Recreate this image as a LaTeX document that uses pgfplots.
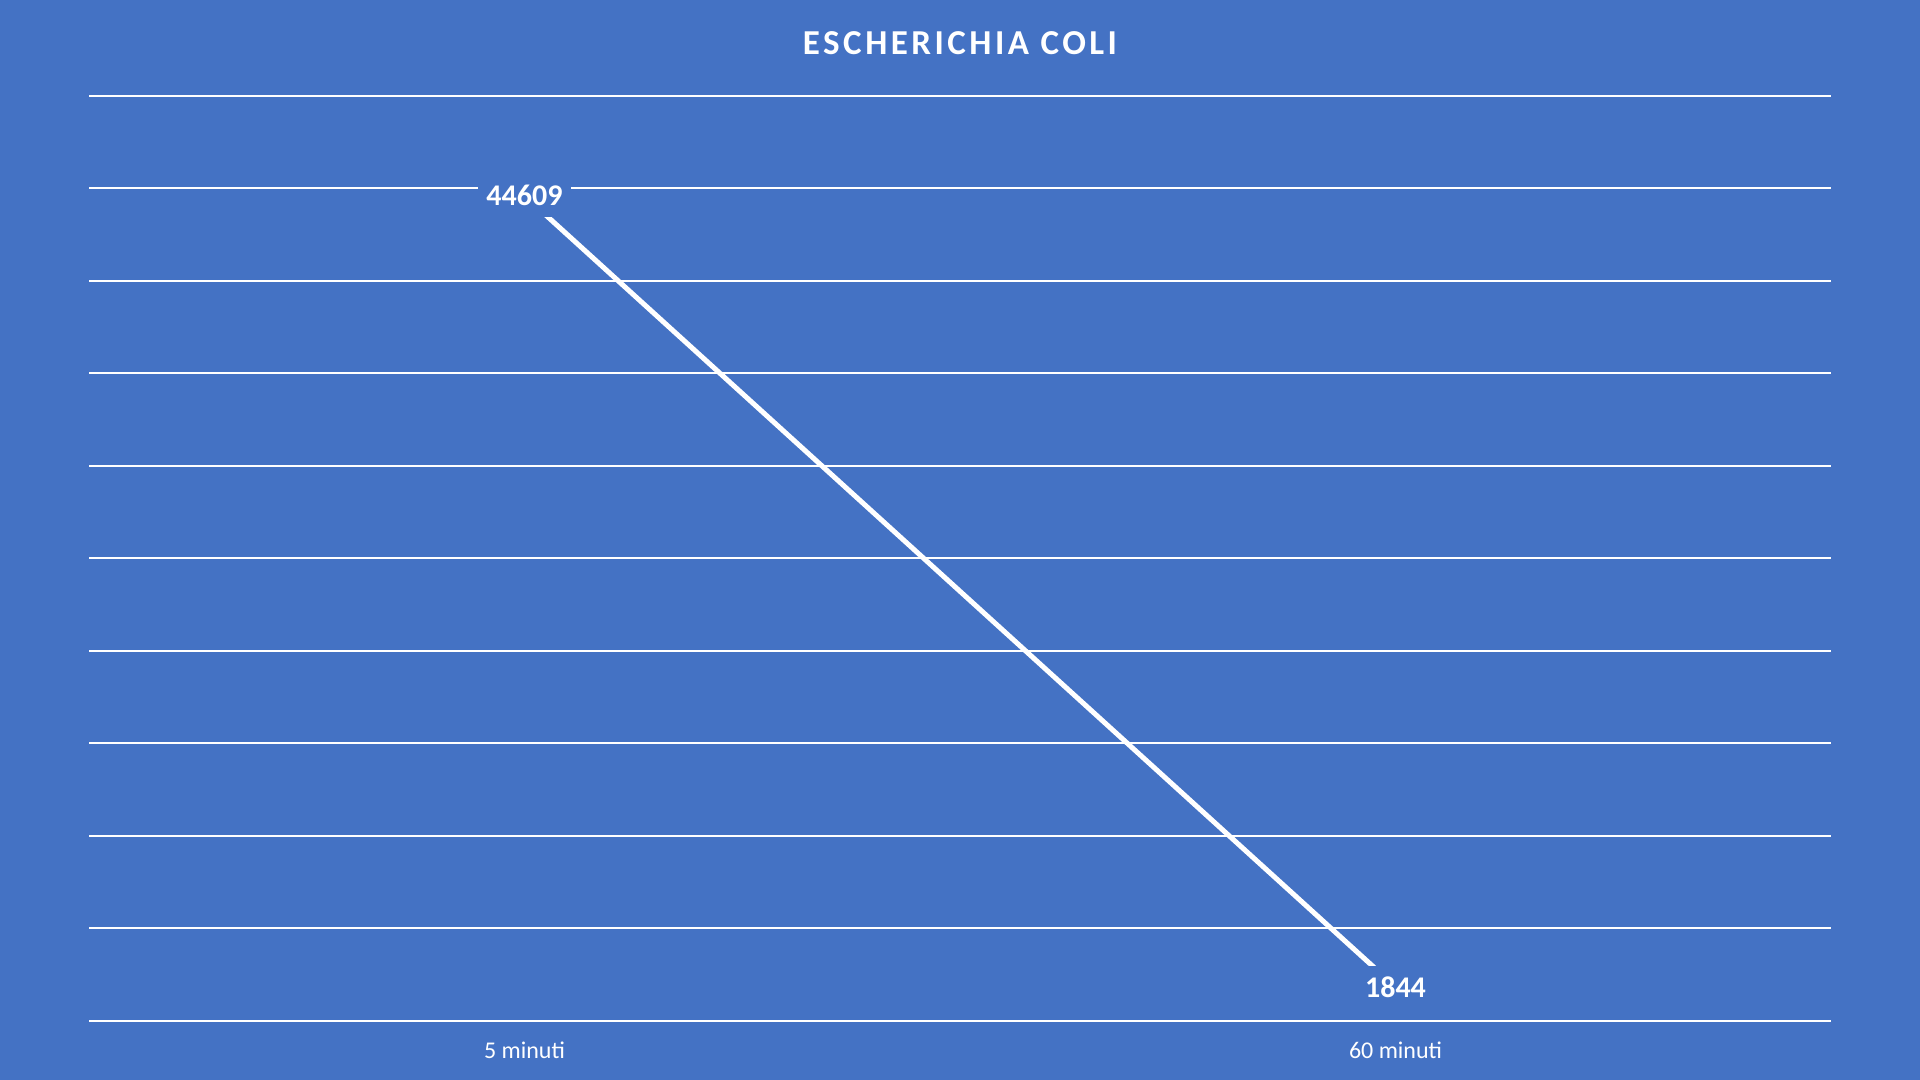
\documentclass[border=0pt]{standalone}
\usepackage{pgfplots}
\pgfplotsset{compat=1.18}
\usepackage{fontspec}
\setmainfont{Carlito}
\newfontfamily\titlefont[LetterSpace=10]{Carlito}
\definecolor{bg}{HTML}{4472C4}
\begin{document}
\begin{tikzpicture}
\fill[bg] (0,0) rectangle (960pt,540pt);
\begin{axis}[
  at={(44.5pt,29.5pt)}, anchor=south west,
  scale only axis, width=871pt, height=462.5pt,
  xmin=-0.5, xmax=1.5, ymin=0, ymax=50000,
  ytick distance=5000, yticklabels={}, scaled y ticks=false,
  xtick={0,1}, xticklabels={5 minuti, 60 minuti},
  xticklabel style={anchor=center, yshift=-14.5pt, font=\fontsize{12}{14}\selectfont, text=white},
  major tick length=0pt,
  axis line style={draw=none},
  ymajorgrids, grid style={white, line width=1pt},
  clip=false,
  point meta=explicit symbolic,
  nodes near coords,
  every node near coord/.append style={anchor=center, fill=bg, text=white,
     font=\bfseries\fontsize{15}{17}\selectfont, inner xsep=4pt, minimum height=21pt},
]
\addplot[white, line width=2.5pt, mark=none] coordinates {(0,44609)[44609] (1,1844)[1844]};
\end{axis}
\node[text=white, font=\titlefont\bfseries\fontsize{17.5}{21}\selectfont] at (480pt,518.5pt) {ESCHERICHIA COLI};
\end{tikzpicture}
\end{document}
